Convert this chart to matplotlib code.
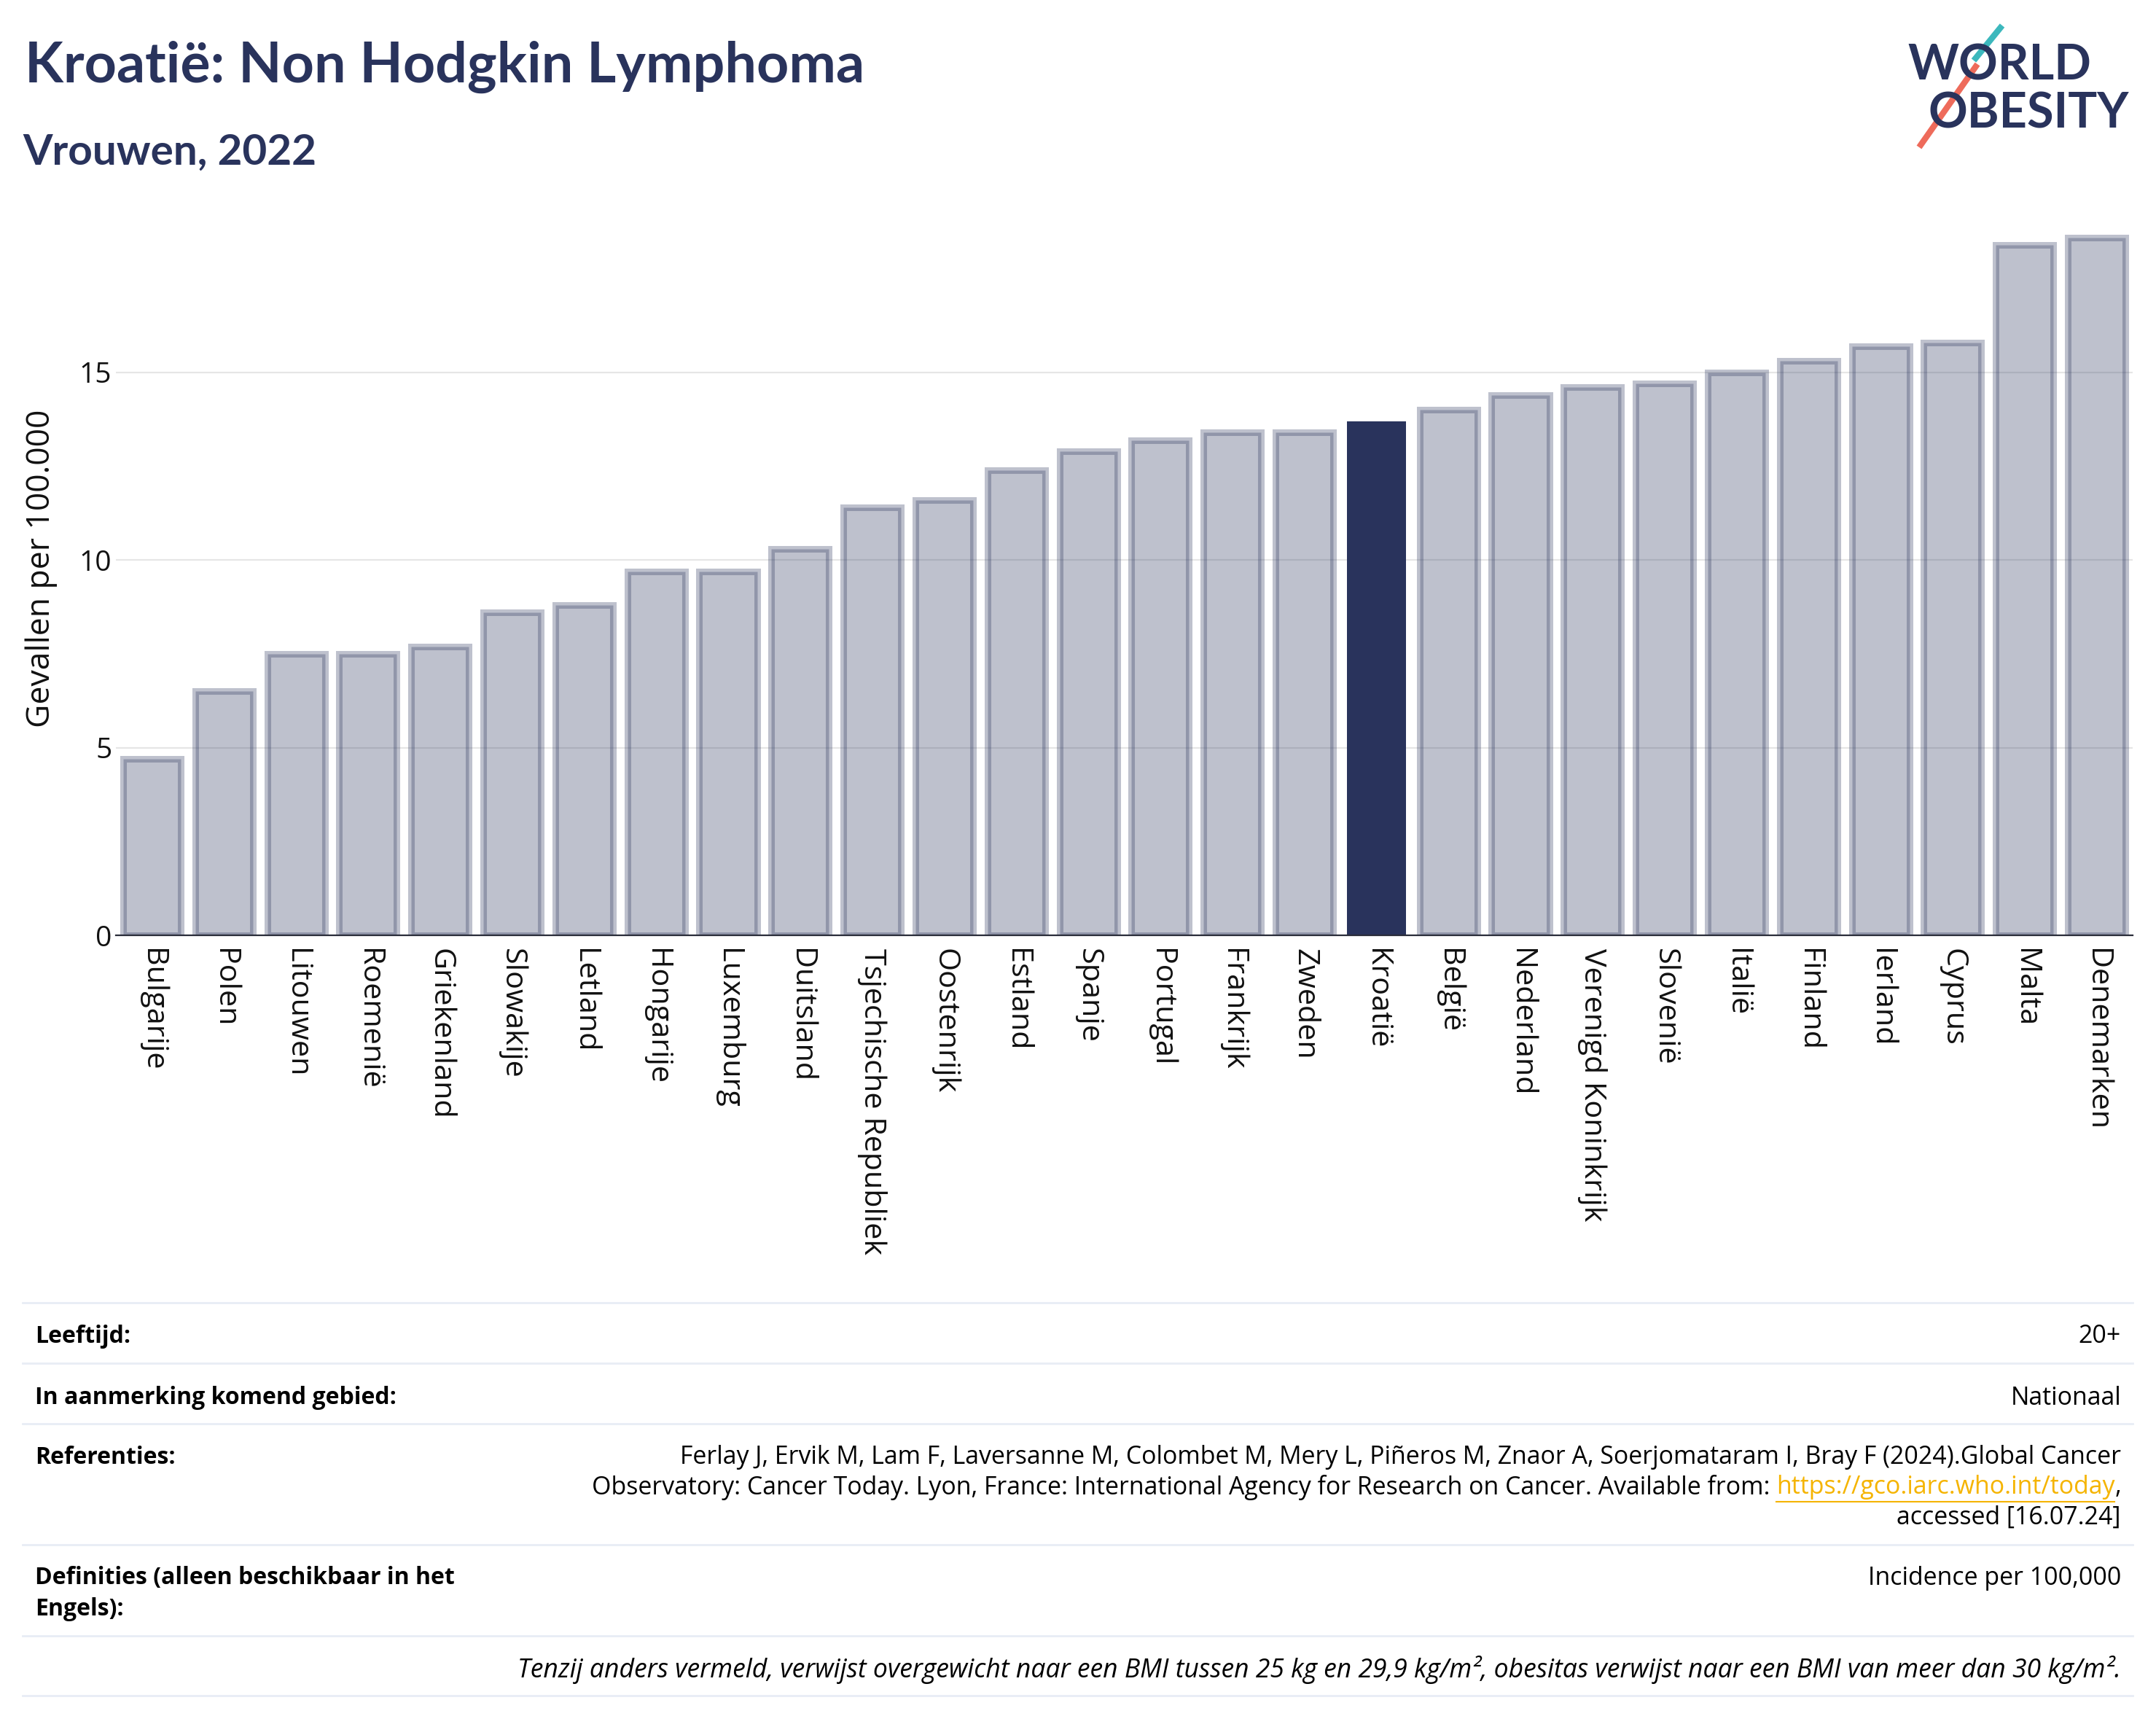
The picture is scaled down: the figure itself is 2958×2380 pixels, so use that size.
import matplotlib.pyplot as plt
from matplotlib.lines import Line2D

# data
countries = ['Bulgarije', 'Polen', 'Litouwen', 'Roemenië', 'Griekenland', 'Slowakije',
             'Letland', 'Hongarije', 'Luxemburg', 'Duitsland', 'Tsjechische Republiek',
             'Oostenrijk', 'Estland', 'Spanje', 'Portugal', 'Frankrijk', 'Zweden',
             'Kroatië', 'België', 'Nederland', 'Verenigd Koninkrijk', 'Slovenië',
             'Italië', 'Finland', 'Ierland', 'Cyprus', 'Malta', 'Denemarken']
values = [4.7, 6.5, 7.5, 7.5, 7.7, 8.6, 8.8, 9.7, 9.7, 10.3, 11.4, 11.6, 12.4, 12.9,
          13.2, 13.4, 13.4, 13.7, 14.0, 14.4, 14.6, 14.7, 15.0, 15.3, 15.7, 15.8,
          18.4, 18.6]
highlight = 'Kroatië'
yticks = [0, 5, 10, 15]

title = 'Kroatië: Non Hodgkin Lymphoma'
subtitle = 'Vrouwen, 2022'
ylabel = 'Gevallen per 100.000'

plt.rcParams['font.family'] = ['Open Sans', 'DejaVu Sans']
head_font = ['Lato', 'DejaVu Sans']

W, H = 2958, 2380
navy = '#29335c'
navy_rgb = (41/255, 51/255, 92/255)
txt = '#111111'


def fx(x):
    return x / W


def fy(y):
    return 1 - y / H


fig = plt.figure(figsize=(W/100, H/100), dpi=100)

# main axes
ax = fig.add_axes([fx(159), fy(1283), (2926-159)/W, (1283-305)/H])
x = list(range(len(countries)))
hi = countries.index(highlight)
xs = [i for i in x if i != hi]
vs = [values[i] for i in xs]
ax.bar(xs, vs, width=0.8, color=navy_rgb + (0.3,), edgecolor=navy_rgb + (0.3,),
       linewidth=6.5, zorder=3)
ax.bar([hi], [values[hi]], width=0.82, color=navy, linewidth=0, zorder=3)
ax.set_xlim(-0.5, len(countries) - 0.5)
ax.set_ylim(0, 19)
ax.set_yticks(yticks)
ax.set_yticklabels([str(t) for t in yticks], fontsize=28, color=txt)
ax.set_xticks(x)
ax.set_xticklabels(countries, rotation=-90, ha='center', va='top', fontsize=29.8,
                   color=txt)
ax.tick_params(axis='both', length=0)
ax.tick_params(axis='x', pad=13)
ax.tick_params(axis='y', pad=4)
ax.grid(axis='y', color='#e6e6e6', linewidth=1.6, zorder=0)
ax.set_axisbelow(True)
for s in ['top', 'right', 'left']:
    ax.spines[s].set_visible(False)
ax.spines['bottom'].set_color('#2a2d3a')
ax.spines['bottom'].set_linewidth(1.6)
ax.spines['bottom'].set_zorder(5)

fig.text(fx(57), fy(780), ylabel, rotation=90, ha='center', va='center',
         fontsize=32, color=txt)

# titles
fig.text(fx(34), fy(113), title, fontsize=55.5, fontweight='bold', color=navy,
         ha='left', va='baseline', family=head_font)
fig.text(fx(31), fy(226), subtitle, fontsize=42, fontweight='bold', color=navy,
         ha='left', va='baseline', family=head_font)

# logo
fig.text(fx(2617), fy(110), 'WORLD', fontsize=48, fontweight='bold', color=navy,
         ha='left', va='baseline', family=head_font)
fig.text(fx(2645), fy(175), 'OBESITY', fontsize=48, fontweight='bold', color=navy,
         ha='left', va='baseline', family=head_font)
for (x0, y0, x1, y1), col in [((2747, 35, 2708, 83), '#3cb8bd'),
                              ((2713, 88, 2633, 202), '#ee6b5b')]:
    fig.add_artist(Line2D([fx(x0), fx(x1)], [fy(y0), fy(y1)], color='white',
                          linewidth=12, solid_capstyle='butt'))
    fig.add_artist(Line2D([fx(x0), fx(x1)], [fy(y0), fy(y1)], color=col,
                          linewidth=6, solid_capstyle='butt'))

# footer table
for y in [1787, 1870, 1953, 2119, 2244, 2326]:
    fig.add_artist(Line2D([fx(31), fx(2926)], [fy(y), fy(y)], color='#e8edf5',
                          linewidth=2))

fs = 24.4     # regular
fb = 23       # bold labels
fi = 25.6     # italic note
lx, rx = 48, 2910
fig.text(fx(lx), fy(1833), 'Leeftijd:', fontsize=fb, fontweight='bold', va='center')
fig.text(fx(rx), fy(1833), '20+', fontsize=fs, ha='right', va='center')
fig.text(fx(lx), fy(1918), 'In aanmerking komend gebied:', fontsize=fb,
         fontweight='bold', va='center')
fig.text(fx(rx), fy(1918), 'Nationaal', fontsize=fs, ha='right', va='center')
fig.text(fx(lx), fy(1999), 'Referenties:', fontsize=fb, fontweight='bold', va='center')
fig.text(fx(rx), fy(1999),
         'Ferlay J, Ervik M, Lam F, Laversanne M, Colombet M, Mery L, Piñeros M, '
         'Znaor A, Soerjomataram I, Bray F (2024).Global Cancer',
         fontsize=fs, ha='right', va='center')

renderer = fig.canvas.get_renderer()
t_comma = fig.text(fx(rx), fy(2040), ',', fontsize=fs, ha='right', va='center')
w_comma = t_comma.get_window_extent(renderer).width
t_link = fig.text(fx(rx - w_comma), fy(2040), 'https://gco.iarc.who.int/today',
                  fontsize=fs, ha='right', va='center', color='#f5b400')
bb = t_link.get_window_extent(renderer)
fig.add_artist(Line2D([bb.x0 / W, bb.x1 / W], [fy(2060), fy(2060)], color='#f5b400',
                      linewidth=1.5))
fig.text(bb.x0 / W, fy(2040),
         'Observatory: Cancer Today. Lyon, France: International Agency for Research '
         'on Cancer. Available from: ',
         fontsize=fs, ha='right', va='center')
fig.text(fx(rx), fy(2082), 'accessed [16.07.24]', fontsize=fs, ha='right', va='center')

fig.text(fx(lx), fy(2165), 'Definities (alleen beschikbaar in het', fontsize=fb,
         fontweight='bold', va='center')
fig.text(fx(lx), fy(2207), 'Engels):', fontsize=fb, fontweight='bold', va='center')
fig.text(fx(rx), fy(2165), 'Incidence per 100,000', fontsize=fs, ha='right', va='center')

fig.text(fx(rx), fy(2290),
         'Tenzij anders vermeld, verwijst overgewicht naar een BMI tussen 25 kg en '
         '29,9 kg/m², obesitas verwijst naar een BMI van meer dan 30 kg/m².',
         fontsize=fi, style='italic', ha='right', va='center')

fig.savefig('out.png', dpi=100)
